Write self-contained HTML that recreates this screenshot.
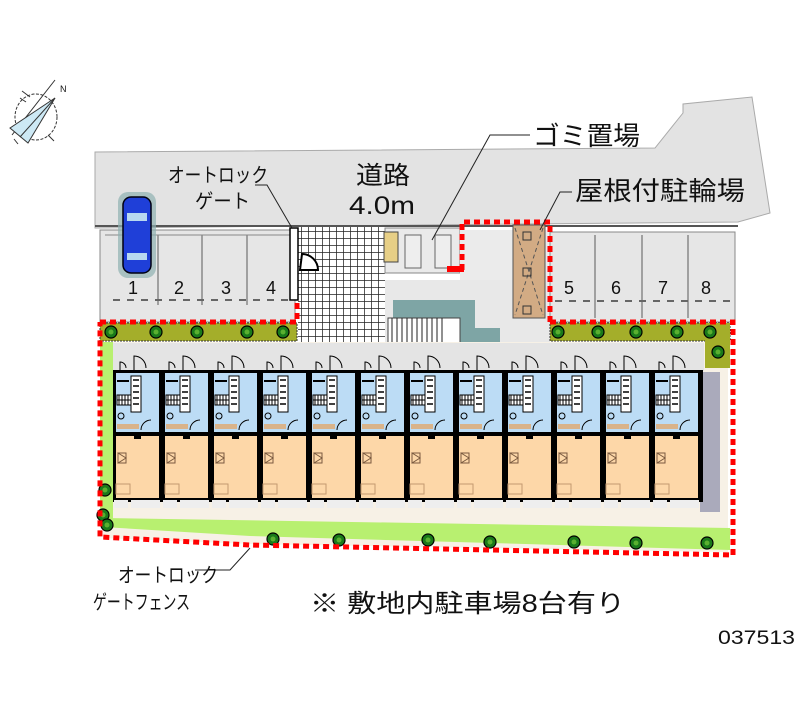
<!DOCTYPE html>
<html><head><meta charset="utf-8"><style>
html,body{margin:0;padding:0;background:#fff;width:800px;height:727px;overflow:hidden}
svg{display:block}
text{font-family:"Liberation Sans","Noto Sans CJK JP",sans-serif;fill:#111}
</style></head><body>
<svg width="800" height="727" viewBox="0 0 800 727" xmlns="http://www.w3.org/2000/svg">
<defs>
<pattern id="grid" width="7" height="7" patternUnits="userSpaceOnUse">
<rect width="7" height="7" fill="#fff"/><path d="M0 0H7M0 0V7" stroke="#222" stroke-width="1.5"/>
</pattern>
<g id="unit">
<rect x="0" y="370" width="49" height="132" fill="#000"/>
<rect x="3" y="373" width="43" height="59" fill="#bcdcf5"/>
<rect x="3" y="436" width="43" height="62" fill="#fdd7a8"/>
<rect x="4" y="380" width="12" height="2" fill="#000"/>
<rect x="4" y="395" width="14" height="10" fill="#fff" stroke="#000" stroke-width="1"/>
<path d="M6 395v10M9 395v10M12 395v10M15 395v10M4 400h14" stroke="#000" stroke-width="1"/>
<rect x="18" y="376" width="10" height="36" fill="#fff" stroke="#000" stroke-width="1"/>
<path d="M20 380h6M20 386h6M20 392h6M20 398h6M20 404h6" stroke="#000" stroke-width="1.5"/>
<circle cx="8" cy="416" r="3" fill="none" stroke="#000" stroke-width="1"/>
<rect x="4" y="424" width="22" height="5" fill="#d9b38a"/>
<path d="M28 430a10 10 0 0 1 10-10" fill="none" stroke="#000" stroke-width="1"/>
<rect x="21" y="432" width="7" height="7" fill="#000"/>
<path d="M5 453l8 5l-8 5zM5 453h8v10h-8z" fill="none" stroke="#7a5a40" stroke-width="1"/>
<rect x="3" y="484" width="14" height="10" fill="none" stroke="#c49a70" stroke-width="1"/>
<rect x="1" y="500" width="14" height="8" fill="#eee"/>
<rect x="18" y="500" width="29" height="8" fill="#eee"/>
<path d="M21 370v-14a12 12 0 0 1 12 12" fill="none" stroke="#000" stroke-width="1"/>
<path d="M7 370v-8a6 6 0 0 1 6 6" fill="none" stroke="#000" stroke-width="1"/>
</g>
<g id="tree"><circle r="6" fill="#1a7a1a" stroke="#000" stroke-width="1.2"/><circle r="2.5" fill="#5ab030"/></g>
</defs>

<!-- compass -->
<g stroke="#333" stroke-width="1" fill="none">
<ellipse cx="36" cy="117" rx="21" ry="23" stroke-dasharray="3 1.5"/>
<path d="M12 135l43-55M30 97l-8 -6M26 102l-6 -4M48 135l6 6M14 139l4 5"/>
</g>
<path d="M55 98L10 128L28 143Z" fill="#cde9f5" stroke="#333"/>
<path d="M55 98L20 137" stroke="#333"/>
<text x="60" y="92" font-size="9">N</text>

<!-- road -->
<path d="M95 152L655 148L683 113L683 104L752 97L770 213L738 222L95 228Z" fill="#e3e3e3" stroke="#aaa" stroke-width="1"/>
<path d="M95 226H738" stroke="#555" stroke-width="2"/>

<!-- left parking -->
<rect x="100" y="230" width="195" height="92" fill="#e6e6e6" stroke="#888"/>
<path d="M105 235H292" stroke="#888"/>
<path d="M158 235V305M202 235V305M247 235V305" stroke="#888" stroke-width="1.5"/>
<path d="M113 300H292" stroke="#666" stroke-width="2" stroke-dasharray="7 7"/>
<g font-size="18"><text x="128" y="294">1</text><text x="174" y="294">2</text><text x="221" y="294">3</text><text x="266" y="294">4</text></g>
<!-- car -->
<rect x="118" y="192" width="38" height="86" rx="10" fill="#8fb0b0" opacity=".7"/>
<rect x="123" y="197" width="28" height="76" rx="8" fill="#1f3fd8" stroke="#001" stroke-width="1.5"/>
<rect x="127" y="213" width="20" height="8" fill="#b8d8f0"/>
<rect x="127" y="253" width="20" height="7" fill="#b8d8f0"/>

<!-- center gate/grid -->
<rect x="298" y="227" width="87" height="118" fill="url(#grid)"/>
<rect x="290" y="228" width="8" height="72" fill="#fff" stroke="#000" stroke-width="1.5"/>
<path d="M300 270h18a16 16 0 0 0 -16 -16z" fill="#fff" stroke="#000" stroke-width="2"/>
<rect x="385" y="228" width="75" height="45" fill="#eaeaea" stroke="#888"/>
<rect x="384" y="232" width="14" height="30" fill="#e7cf86" stroke="#444"/>
<rect x="405" y="235" width="16" height="33" fill="#eee" stroke="#666"/>
<rect x="435" y="235" width="16" height="33" fill="#eee" stroke="#666"/>
<path d="M385 280H550V345H385Z" fill="#e8e8e8"/>
<path d="M393 300H475V328H500V345H460V318H393Z" fill="#7ea5a5"/>
<rect x="388" y="318" width="72" height="26" fill="#fff" stroke="#444"/>
<path d="M392 318v26M397 318v26M402 318v26M407 318v26M412 318v26M417 318v26M422 318v26M427 318v26M432 318v26M437 318v26M442 318v26" stroke="#222"/>
<rect x="460" y="230" width="90" height="50" fill="#ebebeb"/>
<!-- bike shelter -->
<rect x="513" y="225" width="32" height="93" fill="#d2ab84" stroke="#555"/>
<path d="M515 228L543 315M543 228L515 315" stroke="#555" stroke-dasharray="4 3"/>
<rect x="523" y="232" width="8" height="8" fill="none" stroke="#333"/>
<rect x="523" y="268" width="8" height="8" fill="none" stroke="#333"/>
<rect x="523" y="306" width="8" height="8" fill="none" stroke="#333"/>

<!-- right parking -->
<rect x="550" y="232" width="185" height="90" fill="#e6e6e6" stroke="#888"/>
<path d="M595 235V318M642 235V318M688 235V318" stroke="#888" stroke-width="1.5"/>
<path d="M555 301H733" stroke="#666" stroke-width="2" stroke-dasharray="7 7"/>
<g font-size="18"><text x="564" y="294">5</text><text x="611" y="294">6</text><text x="658" y="294">7</text><text x="701" y="294">8</text></g>

<!-- green strips -->
<rect x="100" y="323" width="197" height="18" fill="#a4ae2a" stroke="#333" stroke-dasharray="2 1"/>
<rect x="550" y="323" width="180" height="18" fill="#a4ae2a" stroke="#333" stroke-dasharray="2 1"/>
<rect x="705" y="323" width="25" height="45" fill="#a4ae2a"/>
<use href="#tree" x="111" y="332"/><use href="#tree" x="156" y="332"/><use href="#tree" x="197" y="332"/><use href="#tree" x="247" y="332"/><use href="#tree" x="283" y="332"/>
<use href="#tree" x="558" y="332"/><use href="#tree" x="598" y="332"/><use href="#tree" x="636" y="332"/><use href="#tree" x="677" y="332"/><use href="#tree" x="710" y="332"/><use href="#tree" x="718" y="352"/>

<!-- site -->
<path d="M103 342H705V368H728V552L250 544L103 538Z" fill="#f7f1e6"/>
<rect x="108" y="343" width="596" height="28" fill="#e4e4e4"/>
<path d="M100 342H113V525H100Z" fill="#b8f070"/>
<path d="M103 527L250 536L730 550L730 528L103 518Z" fill="#b8f070"/>
<rect x="700" y="372" width="20" height="140" fill="#aab"/>
<!-- units -->
<use href="#unit" x="113"/><use href="#unit" x="162"/><use href="#unit" x="211"/><use href="#unit" x="260"/><use href="#unit" x="309"/><use href="#unit" x="358"/><use href="#unit" x="407"/><use href="#unit" x="456"/><use href="#unit" x="505"/><use href="#unit" x="554"/><use href="#unit" x="603"/><use href="#unit" x="652"/>
<rect x="699" y="370" width="4" height="132" fill="#000"/>
<use href="#tree" x="105" y="490"/><use href="#tree" x="103" y="515"/><use href="#tree" x="107" y="525"/>
<use href="#tree" x="273" y="539"/><use href="#tree" x="339" y="540"/><use href="#tree" x="428" y="540"/><use href="#tree" x="490" y="542"/><use href="#tree" x="574" y="542"/><use href="#tree" x="636" y="543"/><use href="#tree" x="707" y="543"/>

<!-- red dotted boundaries -->
<g fill="none" stroke="#f00" stroke-width="5" stroke-dasharray="6 4">
<path d="M100 322H297V300"/>
<path d="M550 322H733V555L250 545L100 537V322"/>
<path d="M462 270V222H550V322"/>
</g>
<rect x="447" y="266" width="17" height="6" fill="#f00"/>

<!-- leader lines -->
<g stroke="#222" stroke-width="1" fill="none">
<path d="M255 185H267L292 228"/>
<path d="M530 135H490L432 240"/>
<path d="M572 192H560L540 230"/>
<path d="M195 570H230L250 548"/>
</g>

<!-- labels -->
<g lengthAdjust="spacingAndGlyphs">
<text x="168" y="182" font-size="20" textLength="100" lengthAdjust="spacingAndGlyphs">オートロック</text>
<text x="195" y="208" font-size="20" textLength="55" lengthAdjust="spacingAndGlyphs">ゲート</text>
<text x="356" y="184" font-size="25" textLength="54" lengthAdjust="spacingAndGlyphs">道路</text>
<text x="349" y="214" font-size="25" textLength="66" lengthAdjust="spacingAndGlyphs">4.0m</text>
<text x="533" y="145" font-size="26" textLength="107" lengthAdjust="spacingAndGlyphs">ゴミ置場</text>
<text x="575" y="200" font-size="26" textLength="170" lengthAdjust="spacingAndGlyphs">屋根付駐輪場</text>
<text x="118" y="582" font-size="20" textLength="100" lengthAdjust="spacingAndGlyphs">オートロック</text>
<text x="93" y="609" font-size="20" textLength="97" lengthAdjust="spacingAndGlyphs">ゲートフェンス</text>
<text x="310" y="612" font-size="25" textLength="315" lengthAdjust="spacingAndGlyphs">※ 敷地内駐車場8台有り</text>
<text x="718" y="644" font-size="19" textLength="77" lengthAdjust="spacingAndGlyphs">037513</text>
</g>
</svg>
</body></html>
